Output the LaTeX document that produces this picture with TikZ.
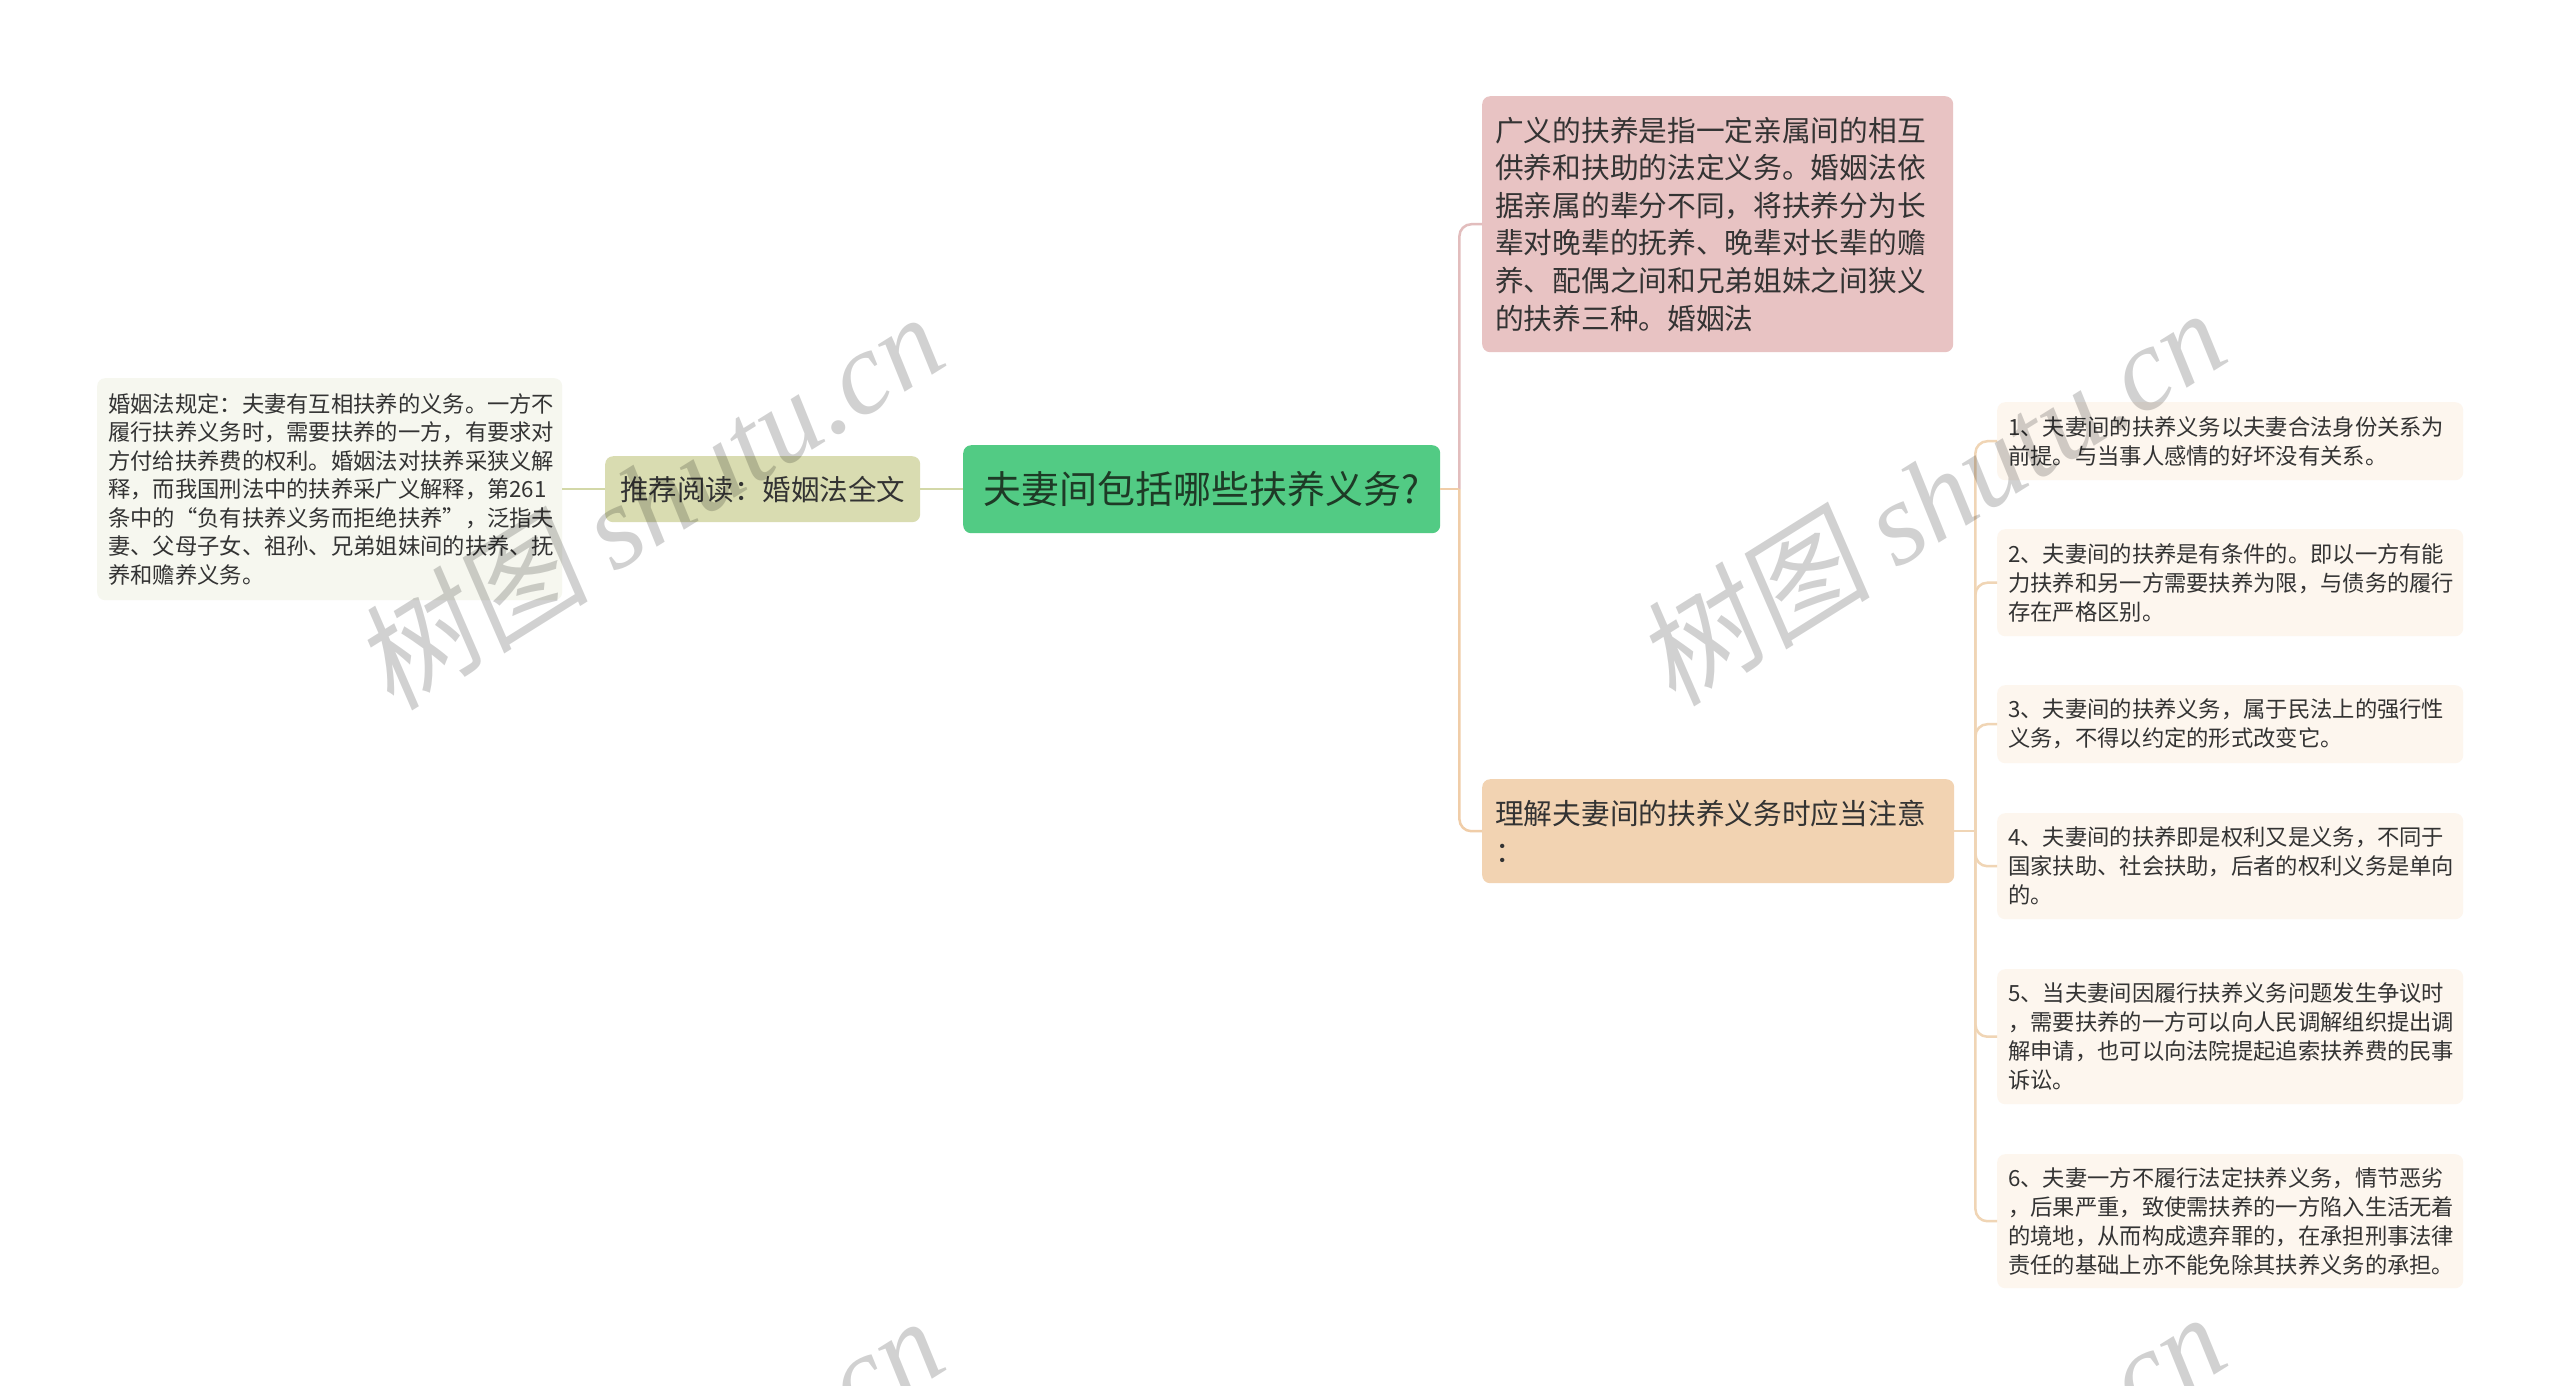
\documentclass[tikz,border=0pt]{standalone}
\usepackage{fontspec}
\setmainfont{Noto Sans CJK SC}
\newfontfamily\wmcjk{Noto Sans CJK SC}[FakeSlant=0.15]
\newfontfamily\wmlat{Liberation Serif}
\definecolor{cgreen}{HTML}{52CB84}
\definecolor{ctext}{HTML}{333333}
\definecolor{ccentertext}{HTML}{1E3A26}
\definecolor{colive}{HTML}{D9DCB1}
\definecolor{coliveln}{HTML}{D3D8A8}
\definecolor{cleft}{HTML}{F6F7EF}
\definecolor{cpink}{HTML}{E8C3C3}
\definecolor{cpinkln}{HTML}{E2BDBD}
\definecolor{corange}{HTML}{F2D3B2}
\definecolor{corangeln}{HTML}{F0CDA8}
\definecolor{cright}{HTML}{FDF6EE}
\definecolor{crightln}{HTML}{F0D5B5}
\begin{document}
\begin{tikzpicture}[x=1pt,y=-1pt,
  nbox/.style={rounded corners=8pt, inner sep=0pt, anchor=north west, text=ctext},
  txt/.style={anchor=west, align=left, inner sep=0pt, text=ctext},
  smallfont/.style={font=\fontsize{22.3pt}{29pt}\selectfont},
  bigfont/.style={font=\fontsize{28.7pt}{37.6pt}\selectfont},
  conn/.style={line width=2.5pt},
  wm/.style={rotate=32, text=black, text opacity=0.18, inner sep=0pt, font=\fontsize{118pt}{118pt}\selectfont}
]
\useasboundingbox (0,0) rectangle (2560,1385);
\fill[white] (0,0) rectangle (2560,1385);

% central node
\node[nbox, fill=cgreen, minimum width=477pt, minimum height=88pt, text=ccentertext,
      font=\fontsize{38pt}{46pt}\selectfont] (center) at (963,445) {夫妻间包括哪些扶养义务?};

% left side
\node[nbox, fill=colive, minimum width=315pt, minimum height=66pt,
      font=\fontsize{28.5pt}{34pt}\selectfont] (lnode) at (605,456) {推荐阅读：婚姻法全文};
\node[nbox, fill=cleft, minimum width=465pt, minimum height=222pt] (lbox) at (97,378) {};
\node[txt, font=\fontsize{22.3pt}{28.5pt}\selectfont] (lboxt) at ([xshift=11pt]lbox.west)
 {婚姻法规定：夫妻有互相扶养的义务。一方不\\
  履行扶养义务时，需要扶养的一方，有要求对\\
  方付给扶养费的权利。婚姻法对扶养采狭义解\\
  释，而我国刑法中的扶养采广义解释，第261\\
  条中的“负有扶养义务而拒绝扶养”，泛指夫\\
  妻、父母子女、祖孙、兄弟姐妹间的扶养、抚\\
  养和赡养义务。};

% right side, level 1
\node[nbox, fill=cpink, minimum width=471pt, minimum height=256pt] (pink) at (1482,96) {};
\node[txt, bigfont] (pinkt) at ([xshift=13pt]pink.west)
 {广义的扶养是指一定亲属间的相互\\
  供养和扶助的法定义务。婚姻法依\\
  据亲属的辈分不同，将扶养分为长\\
  辈对晚辈的抚养、晚辈对长辈的赡\\
  养、配偶之间和兄弟姐妹之间狭义\\
  的扶养三种。婚姻法};

\node[nbox, fill=corange, minimum width=472pt, minimum height=104pt] (orange) at (1482,779) {};
\node[txt, font=\fontsize{28.7pt}{38pt}\selectfont] (oranget) at ([xshift=13pt]orange.west)
 {理解夫妻间的扶养义务时应当注意\\
  ：};

% right side, level 2
\node[nbox, fill=cright, minimum width=466pt, minimum height=78pt] (r1) at (1997,402) {};
\node[txt, smallfont] (r1t) at ([xshift=11pt]r1.west)
 {1、夫妻间的扶养义务以夫妻合法身份关系为\\
  前提。与当事人感情的好坏没有关系。};
\node[nbox, fill=cright, minimum width=466pt, minimum height=107pt] (r2) at (1997,529) {};
\node[txt, smallfont] (r2t) at ([xshift=11pt]r2.west)
 {2、夫妻间的扶养是有条件的。即以一方有能\\
  力扶养和另一方需要扶养为限，与债务的履行\\
  存在严格区别。};
\node[nbox, fill=cright, minimum width=466pt, minimum height=78pt] (r3) at (1997,685) {};
\node[txt, smallfont] (r3t) at ([xshift=11pt]r3.west)
 {3、夫妻间的扶养义务，属于民法上的强行性\\
  义务，不得以约定的形式改变它。};
\node[nbox, fill=cright, minimum width=466pt, minimum height=106pt] (r4) at (1997,813) {};
\node[txt, smallfont] (r4t) at ([xshift=11pt]r4.west)
 {4、夫妻间的扶养即是权利又是义务，不同于\\
  国家扶助、社会扶助，后者的权利义务是单向\\
  的。};
\node[nbox, fill=cright, minimum width=466pt, minimum height=135pt] (r5) at (1997,969) {};
\node[txt, smallfont] (r5t) at ([xshift=11pt]r5.west)
 {5、当夫妻间因履行扶养义务问题发生争议时\\
  ，需要扶养的一方可以向人民调解组织提出调\\
  解申请，也可以向法院提起追索扶养费的民事\\
  诉讼。};
\node[nbox, fill=cright, minimum width=466pt, minimum height=134pt] (r6) at (1997,1154) {};
\node[txt, smallfont] (r6t) at ([xshift=11pt]r6.west)
 {6、夫妻一方不履行法定扶养义务，情节恶劣\\
  ，后果严重，致使需扶养的一方陷入生活无着\\
  的境地，从而构成遗弃罪的，在承担刑事法律\\
  责任的基础上亦不能免除其扶养义务的承担。};

% connectors
\draw[conn, coliveln] (lbox.east) -- (lnode.west);
\draw[conn, coliveln] (lnode.east) -- (center.west);

\coordinate (jc) at ([xshift=19pt]center.east);
\draw[conn, cpinkln, rounded corners=12pt] (jc) |- (pink.west);
\draw[conn, corangeln, rounded corners=12pt] (jc) |- (orange.west);
\draw[conn, corangeln] (center.east) -- (jc);

\coordinate (jo) at ([xshift=21pt]orange.east);
\foreach \r in {r1,r2,r3,r4,r5,r6}{
  \draw[conn, crightln, rounded corners=12pt] (jo) |- (\r.west);
}
\draw[conn, crightln] (orange.east) -- (jo);

% watermarks
\foreach \dx/\dy in {0/0, 1282/-4, 0/1004, 1282/1000}{
  \node[wm] at (648+\dx,500+\dy) {{\wmcjk 树图}~{\wmlat\itshape shutu.cn}};
}
\end{tikzpicture}
\end{document}
